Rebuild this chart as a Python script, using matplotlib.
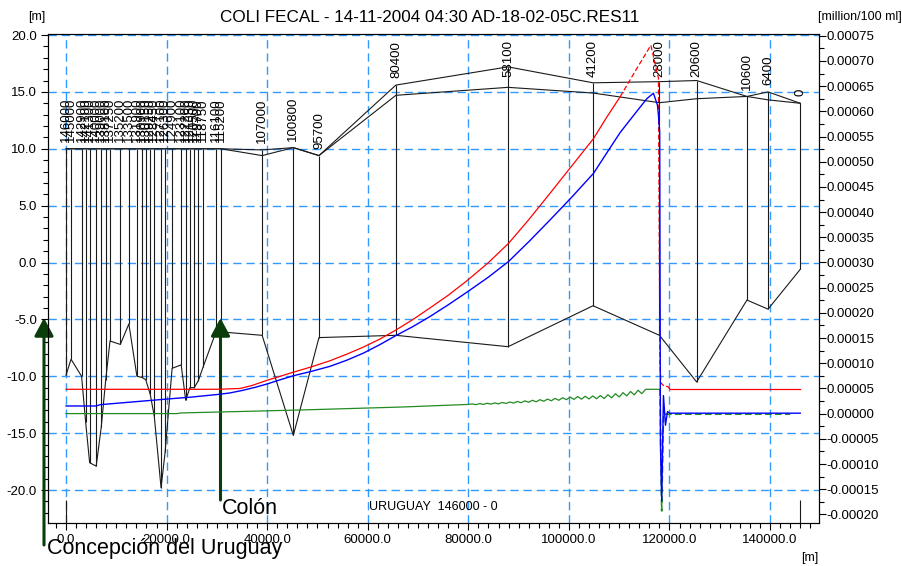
import matplotlib
matplotlib.use("Agg")
import matplotlib.pyplot as plt
from matplotlib.ticker import MultipleLocator, FuncFormatter

plt.rcParams['font.family'] = ['Liberation Sans', 'DejaVu Sans']
plt.rcParams['axes.unicode_minus'] = False

branch_length = 146000

# cross sections of the URUGUAY branch: chainage [m], bed and bank levels [m]
chainage = [146000, 145000, 142900, 142100, 141300, 140000, 139000, 138100, 137250,
            135200, 133500, 131900, 130900, 130150, 129250, 128450, 127100, 126300,
            124900, 123100, 122200, 121350, 120500, 119700, 118750, 116100, 115200,
            107000, 100800, 95700, 80400, 58100, 41200, 28000, 20600, 10600, 6400, 0]
bed_level = [-9.9, -8.5, -10.0, -14.0, -17.6, -17.9, -14.5, -10.3, -6.9,
             -7.2, -5.4, -10.0, -10.1, -10.3, -11.6, -13.5, -19.8, -16.7,
             -9.3, -9.0, -12.1, -11.0, -11.0, -10.4, -9.2, -6.0, -6.1,
             -6.4, -15.2, -6.6, -6.4, -7.4, -3.8, -6.4, -10.5, -3.3, -4.1, -0.6]
bank_left = [10.0] * 27 + [9.9, 10.1, 9.4, 15.6, 17.2, 15.8, 15.9, 16.0, 14.6, 15.0, 14.0]
bank_right = [10.0] * 27 + [9.4, 10.1, 9.4, 14.7, 15.4, 14.9, 14.05, 14.4, 14.6, 14.3, 14.0]

# coli fecal along the branch: distance [m], concentration [1e-6 million/100 ml]
red_dist = [0, 30000, 34600, 37000, 39900, 42500, 45100, 48800, 52500, 55800,
            59100, 62400, 65600, 69000, 72400, 76000, 79500, 83800, 88000, 92100,
            96300, 100600, 104900, 107500, 110200]
red_conc = [48.4, 48.4, 50, 56, 66, 74, 82, 93, 105, 118,
            132, 148, 166, 187, 210, 235, 262, 298, 338, 386,
            438, 492, 546, 588, 629]
red_peak_dist = [110200, 113200, 116300, 117800, 118100, 118300, 119000, 119650, 120100]
red_peak_conc = [629, 680, 731, 666, 100, 61, 54, 54, 48.4]
red_end_dist = [120100, 146000]
red_end_conc = [48.4, 48.4]

blue_dist = [0, 6000, 6800, 20000, 25000, 30000, 32500, 35000, 37500, 40000,
             42500, 45100, 48800, 52500, 55800, 59100, 62400, 65600, 69000, 72400,
             76000, 80000, 84000, 88000, 92100, 96300, 100600, 104900, 107500,
             110200, 113500, 115500, 116800, 117600, 117800, 118050, 118200,
             118450, 118800, 119200, 119600, 120100, 146000]
blue_conc = [15.3, 15.3, 17.9, 29, 33, 38, 41, 46, 52, 59,
             67, 75, 84, 94, 106, 120, 137, 155, 173, 193,
             216, 243, 271, 302, 342, 385, 430, 477, 517,
             558, 600, 625, 636, 612.5, 592.6, 560, -60,
             -173, 36, -23, 4, 1, 1]

green_dist = [0, 22000, 23000, 46500, 67000, 80000,
              80750, 81500, 82250, 83000, 83750, 84500, 85250, 86000, 86750,
              87500, 88250, 89000, 89750, 90500, 91250, 92000, 92750, 93500,
              94250, 95000, 95750, 96500, 97250, 98000, 98750, 99500, 100250,
              101000, 101750, 102500, 103250, 104000, 104750, 105500, 106250,
              107000, 107750, 108500, 109250, 110000, 110750, 111500, 112250,
              113000, 113750, 114500, 115250, 116000, 118100]
green_conc = [0.2, 0.2, 1.5, 7.3, 13.3, 18.4,
              19.4, 17.9, 20.0, 18.4, 20.7, 19.0, 21.4, 19.6, 22.2,
              20.3, 23.2, 21.0, 24.3, 21.8, 25.4, 22.7, 26.6, 23.6,
              27.8, 24.6, 29.0, 25.6, 30.3, 26.6, 31.6, 27.8, 33.0,
              28.4, 34.0, 28.8, 34.6, 29.2, 35.2, 29.6, 36.0,
              30.0, 37.5, 31.5, 39.6, 33.2, 41.8, 35.2, 44.0,
              37.4, 46.5, 39.8, 48.4, 48.4, 48.4]
green_tail_dist = [118100, 118450, 118800, 144000]
green_tail_conc = [48.4, -193, -1, -1]

title = 'COLI FECAL - 14-11-2004 04:30 AD-18-02-05C.RES11'
branch_name = 'URUGUAY  146000 - 0'
places = ['Concepción del Uruguay', 'Colón']

grid_blue = '#3399ff'
profile_black = '#1a1a1a'
arrow_green = '#0b3d0b'
dash = (0, (6, 3.5))

fig = plt.figure(figsize=(9.03, 5.66), dpi=100)
ax = fig.add_axes([48 / 903, 43 / 566, 771 / 903, 489 / 566])
ax2 = ax.twinx()

dist = [branch_length - c for c in chainage]
top_level = [max(a, b) for a, b in zip(bank_left, bank_right)]

# river profile: banks, bed and the cross section verticals
ax.plot(dist, bank_left, color=profile_black, lw=0.8)
ax.plot(dist, bank_right, color=profile_black, lw=0.8)
ax.plot(dist, bed_level, color=profile_black, lw=0.8)
ax.vlines(dist, bed_level, top_level, color=profile_black, lw=0.8)
ax.vlines([0, branch_length], -22.9, -20.9, color=profile_black, lw=0.8)

for d, c, t in zip(dist, chainage, top_level):
    ax.text(d, min(t + 0.6, 16.3), str(c), rotation=90, ha='center', va='bottom',
            fontsize=9.5)

ax.set_xlim(-3580, 149730)
ax.set_ylim(-22.9, 20.09)
ax.xaxis.set_major_locator(MultipleLocator(20000))
ax.xaxis.set_minor_locator(MultipleLocator(2000))
ax.yaxis.set_major_locator(MultipleLocator(5))
ax.yaxis.set_minor_locator(MultipleLocator(1))
ax.xaxis.set_major_formatter(FuncFormatter(lambda v, p: f'{v:.1f}'))
ax.yaxis.set_major_formatter(FuncFormatter(lambda v, p: f'{v:.1f}'))
ax.grid(True, which='major', color=grid_blue, linestyle=dash, linewidth=1)
ax.set_axisbelow(True)
ax.tick_params(which='major', direction='out', length=5, width=0.8, labelsize=9.5, pad=3)
ax.tick_params(which='minor', direction='out', length=3.5, width=0.8)

# concentrations on the right axis
e6 = 1e-6
ax2.plot(green_dist, [v * e6 for v in green_conc], color='#228b22', lw=0.9)
ax2.plot(green_tail_dist, [v * e6 for v in green_tail_conc], color='#228b22', lw=1.2,
         linestyle=(0, (4, 2)))
ax2.plot(red_dist, [v * e6 for v in red_conc], color='red', lw=0.9)
ax2.plot(red_peak_dist, [v * e6 for v in red_peak_conc], color='red', lw=0.9,
         linestyle=(0, (4, 2)))
ax2.plot(red_end_dist, [v * e6 for v in red_end_conc], color='red', lw=0.9)
ax2.plot(blue_dist, [v * e6 for v in blue_conc], color='blue', lw=1.0)

ax2.set_ylim(-0.0002169, 0.0007534)
ax2.yaxis.set_major_locator(MultipleLocator(0.00005))
ax2.yaxis.set_minor_locator(MultipleLocator(0.000025))
ax2.yaxis.set_major_formatter(FuncFormatter(lambda v, p: f'{round(v, 5) + 0.0:.5f}'))
ax2.tick_params(which='major', direction='out', length=5, width=0.8, labelsize=9.5, pad=0.5)
ax2.tick_params(which='minor', direction='out', length=3.5, width=0.8)

for a in (ax, ax2):
    for s in a.spines.values():
        s.set_linewidth(0.8)

ax.text(0.5, 0.033, branch_name, transform=ax.transAxes, ha='center', va='center',
        fontsize=9)

fig.text(430 / 903, 1 - 17 / 566, title, ha='center', va='center', fontsize=12.3)
fig.text(37 / 903, 1 - 17 / 566, '[m]', ha='center', va='center', fontsize=9)
fig.text(818 / 903, 1 - 17 / 566, '[million/100 ml]', ha='left', va='center', fontsize=9)
fig.text(818 / 903, 1 - 558 / 566, '[m]', ha='right', va='center', fontsize=9)

# town markers
arrow = dict(arrowstyle='-|>,head_length=0.54,head_width=0.29', mutation_scale=20,
             color=arrow_green, lw=2.2, shrinkA=0, shrinkB=0)
ax.annotate('', xy=(44, 248), xytext=(44, 21), xycoords='figure pixels',
            textcoords='figure pixels', arrowprops=arrow)
ax.annotate('', xy=(220.5, 248), xytext=(220.5, 66), xycoords='figure pixels',
            textcoords='figure pixels', arrowprops=arrow)
fig.text(47 / 903, 12 / 566, places[0], ha='left', va='baseline', fontsize=15.5)
fig.text(222 / 903, 52 / 566, places[1], ha='left', va='baseline', fontsize=15.5)

fig.savefig('out.png', dpi=100)
